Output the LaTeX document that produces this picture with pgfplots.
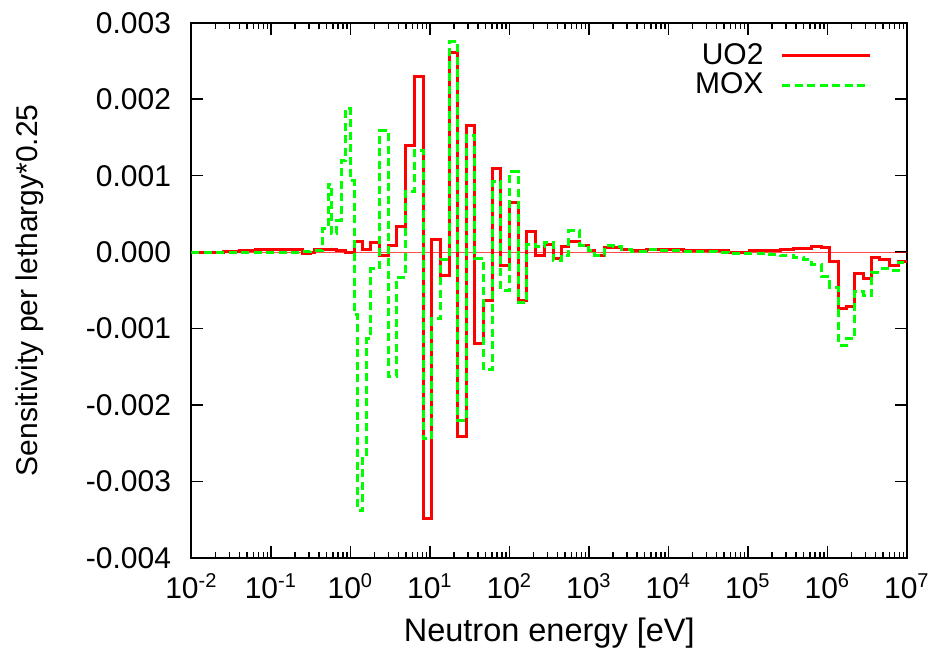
\documentclass[border=0pt]{standalone}
\usepackage{fontspec}
\setmainfont{Liberation Sans}
\usepackage{pgfplots}
\pgfplotsset{compat=1.18}
\usepackage{pgfplotstable}

% sensitivity per lethargy, left bin edge [eV] and value
\pgfplotstableread{
E v
0.01 0.0
0.02512 0.00001
0.03981 0.00002
0.06310 0.00003
0.1 0.00004
0.1995 0.00003
0.2512 -0.00002
0.3162 0.0
0.3548 0.00003
0.6699 0.00002
0.871 -0.00001
1.109 0.00014
1.429 0.00003
1.811 0.00012
2.301 -0.00004
2.985 0.00009
3.811 0.00033
4.943 0.0014
6.383 0.0023
8.241 -0.00348
10.50 0.000165
13.74 -0.0003
17.50 0.00261
22.28 -0.00241
28.97 0.00166
36.81 -0.00119
47.75 -0.00063
60.81 0.0011
78.16 -0.00018
100 0.00065
129.1 -0.00063
164.4 0.00027
213.8 -0.00005
274.2 0.0001
355.6 -0.00008
453.9 0.00008
559.8 0.00014
770.9 0.00009
979.5 0.00002
1189 -0.00005
1589 0.000065
2023 0.00006
2576 0.00004
3443 0.00002
5321 0.00004
7447 0.00003
15350 0.00002
56230 0.0
105900 0.00002
252900 0.00004
371500 0.00005
632400 0.00008
845300 0.00006
1074000 -0.00012
1368000 -0.00074
1746000 -0.00071
2218000 -0.00028
2818000 -0.00035
3597000 -0.00007
4571000 -0.0001
6109000 -0.00018
7762000 -0.00012
10000000 -0.00012
}\uotwo

\pgfplotstableread{
E v
0.01 0.0
0.2512 0.00001
0.3162 0.00002
0.3548 0.00002
0.4416 0.00031
0.5260 0.00089
0.5808 0.00024
0.6699 0.00041
0.7603 0.0012
0.8710 0.00188
0.9863 0.00094
1.109 -0.00081
1.233 -0.00338
1.429 -0.00264
1.600 -0.00113
1.811 -0.00022
2.301 0.00159
2.985 -0.00162
3.811 -0.00033
4.943 0.00079
6.383 0.00133
8.241 -0.00244
10.50 -0.00087
13.74 -0.00009
17.50 0.00275
22.28 -0.0022
28.97 0.00152
36.81 -0.00008
47.75 -0.00154
60.81 0.00092
78.16 -0.0005
100 0.00105
129.1 -0.00066
164.4 0.0001
213.8 0.00007
274.2 0.00013
355.6 -0.00011
453.9 -0.00004
559.8 0.00028
770.9 0.00009
979.5 0.00002
1189 -0.00004
1589 0.00009
2023 0.00007
2576 0.00003
3443 0.00001
5321 0.00004
7447 0.00002
15350 0.00001
39810 0.0
56230 -0.00002
189200 -0.00003
252900 -0.00005
371500 -0.00007
496600 -0.0001
632400 -0.00016
845300 -0.00032
1074000 -0.00046
1368000 -0.00122
1746000 -0.00113
2218000 -0.00052
2818000 -0.00057
3597000 -0.00026
4571000 -0.00022
6109000 -0.00024
7762000 -0.00013
10000000 -0.00013
}\mox

\definecolor{gpred}{RGB}{255,0,0}
\definecolor{gpgreen}{RGB}{0,255,0}
\pgfplotsset{
  gpkey/.style={legend image code/.code={\draw[##1] (0pt,0pt) -- (35pt,0pt);}}
}

\begin{document}
\fontsize{12}{14}\selectfont
\begin{tikzpicture}
\begin{axis}[
  at={(0,0)}, anchor=south west,
  scale only axis, width=286.2pt, height=214.1pt,
  xmode=log, xmin=1e-2, xmax=1e7,
  ymin=-0.004, ymax=0.003,
  axis line style={line width=0.8pt},
  every tick/.style={black, line width=0.6pt},
  major tick length=4.8pt, minor tick length=2.4pt,
  xtick={1e-2,1e-1,1,10,100,1e3,1e4,1e5,1e6,1e7},
  xticklabels={10\textsuperscript{-2},10\textsuperscript{-1},10\textsuperscript{0},10\textsuperscript{1},10\textsuperscript{2},10\textsuperscript{3},10\textsuperscript{4},10\textsuperscript{5},10\textsuperscript{6},10\textsuperscript{7}},
  minor xtick={2e-2,3e-2,4e-2,5e-2,6e-2,7e-2,8e-2,9e-2,
    0.2,0.3,0.4,0.5,0.6,0.7,0.8,0.9,2,3,4,5,6,7,8,9,
    20,30,40,50,60,70,80,90,200,300,400,500,600,700,800,900,
    2000,3000,4000,5000,6000,7000,8000,9000,
    2e4,3e4,4e4,5e4,6e4,7e4,8e4,9e4,2e5,3e5,4e5,5e5,6e5,7e5,8e5,9e5,
    2e6,3e6,4e6,5e6,6e6,7e6,8e6,9e6},
  ytick={-0.004,-0.003,-0.002,-0.001,0,0.001,0.002,0.003},
  minor y tick num=0,
  scaled y ticks=false,
  /pgf/number format/assume math mode=true,
  yticklabel style={/pgf/number format/fixed,/pgf/number format/fixed zerofill,
    /pgf/number format/precision=3, xshift=-4pt},
  xticklabel style={yshift=-2pt},
  xlabel={Neutron energy [eV]},
  ylabel={Sensitivity per lethargy*0.25},
  xlabel style={at={(axis description cs:0.5,-0.14)}, anchor=center,
    font=\fontsize{13}{15}\selectfont},
  ylabel style={at={(axis description cs:-0.2257,0.5)}, anchor=center},
  legend plot pos=right,
  legend cell align=right,
  legend style={draw=none, fill=none, at={(1,1)}, anchor=north east,
    xshift=-11pt, yshift=-4pt, row sep=-2.5pt,
    nodes={fill=none, inner xsep=4pt},
    /tikz/every odd column/.append style={column sep=3pt}},
]
\addplot[gpred, line width=0.4pt, opacity=0.7, forget plot] coordinates {(1e-2,0) (1e7,0)};
\addplot[const plot, gpred, line width=1.2pt, gpkey] table[x=E, y=v] {\uotwo};
\addlegendentry{UO2}
\addplot[const plot, gpgreen, line width=1.2pt, dash pattern=on 3.2pt off 1.8pt, gpkey] table[x=E, y=v] {\mox};
\addlegendentry{MOX}
\end{axis}
\pgfresetboundingbox
\path (-76.6pt,-39.2pt) rectangle (296.6pt,223.2pt);
\end{tikzpicture}
\end{document}
